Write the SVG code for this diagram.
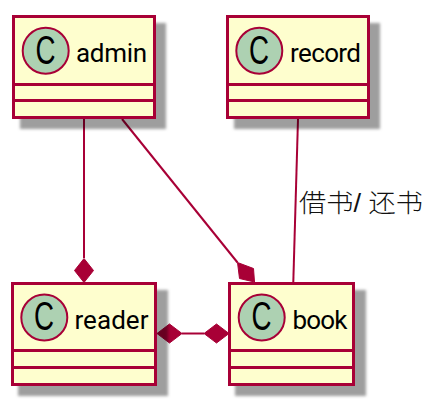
<svg xmlns="http://www.w3.org/2000/svg" width="447" height="405" viewBox="0 0 447 405">
<style>
.box{fill:#FEFECE;stroke:#A80036;stroke-width:3}
.sep{fill:none;stroke:#A80036;stroke-width:3}
.shadow{fill:#000;fill-opacity:.38;filter:url(#blur)}
.spot{fill:#ADD1B2;stroke:#A80036;stroke-width:2}
.c{font-family:"Liberation Sans",sans-serif;font-size:40px;fill:#000}
.name{font-family:Roboto,"Liberation Sans",sans-serif;font-size:26px;fill:#000}
.link{fill:none;stroke:#A80036;stroke-width:2}
.dia{fill:#A80036;stroke:#A80036;stroke-width:1}
.lab{font-family:"Liberation Sans","Noto Sans CJK SC",sans-serif;font-size:25px;font-weight:300;fill:#111}
</style>
<defs><filter id="blur" x="-20%" y="-20%" width="140%" height="140%"><feGaussianBlur stdDeviation="1.500"/></filter></defs>
<rect width="447" height="405" fill="#fff"/>
<g id="connectors">
<path class="link" d="M84 119V258"/>
<path class="dia" d="M84 258.500L93.500 270.500L84 282.500L74.500 270.500Z"/>
<path class="link" d="M122 119L237.500 262.500"/>
<path class="dia" d="M237.500 262.500L253.500 268.500L254.500 282L239.500 278.500Z"/>
<path class="link" d="M298 119L293.300 282"/>
<path class="link" d="M182 333.500H204"/>
<path class="dia" d="M157 333.500L169.500 324L182 333.500L169.500 343Z"/>
<path class="dia" d="M204 333.500L216.500 324L229 333.500L216.500 343Z"/>
<text class="lab" x="299" y="212" textLength="124" lengthAdjust="spacingAndGlyphs">借书/ 还书</text>
</g>
<g id="admin">
<rect class="shadow" x="20" y="23" width="146" height="106"/>
<rect class="box" x="13.500" y="16.500" width="141" height="101"/>
<path class="sep" d="M13.500 84.500H154.500M13.500 100.500H154.500"/>
<circle class="spot" cx="45.700" cy="50.700" r="23"/>
<text class="c" x="35.500" y="63.500" textLength="20" lengthAdjust="spacingAndGlyphs">C</text>
<text class="name" x="76" y="61.700" textLength="71">admin</text>
</g>
<g id="record">
<rect class="shadow" x="234" y="23" width="146" height="106"/>
<rect class="box" x="227.500" y="16.500" width="141" height="101"/>
<path class="sep" d="M227.500 84.500H368.500M227.500 100.500H368.500"/>
<circle class="spot" cx="259.300" cy="50.700" r="23"/>
<text class="c" x="249.100" y="63.500" textLength="20" lengthAdjust="spacingAndGlyphs">C</text>
<text class="name" x="290" y="61.700" textLength="71">record</text>
</g>
<g id="reader">
<rect class="shadow" x="18" y="290" width="150" height="106"/>
<rect class="box" x="12.500" y="283.500" width="143" height="101"/>
<path class="sep" d="M12.500 350.500H155.500M12.500 367.500H155.500"/>
<circle class="spot" cx="44.300" cy="317.500" r="23"/>
<text class="c" x="34.100" y="330.300" textLength="20" lengthAdjust="spacingAndGlyphs">C</text>
<text class="name" x="74.500" y="328.700" textLength="74">reader</text>
</g>
<g id="book">
<rect class="shadow" x="235" y="290" width="131" height="106"/>
<rect class="box" x="229.500" y="283.500" width="124" height="101"/>
<path class="sep" d="M229.500 350.500H353.500M229.500 367.500H353.500"/>
<circle class="spot" cx="261.700" cy="317.500" r="23"/>
<text class="c" x="251.500" y="330.300" textLength="20" lengthAdjust="spacingAndGlyphs">C</text>
<text class="name" x="292.500" y="328.700" textLength="55">book</text>
</g>
</svg>
